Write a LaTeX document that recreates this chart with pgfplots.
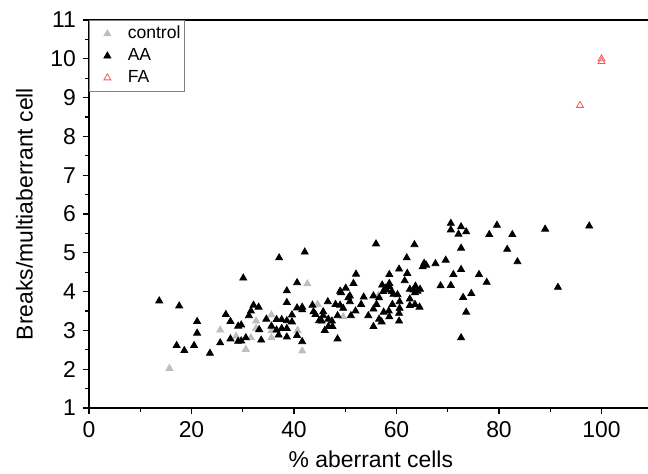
\documentclass[border=0pt]{standalone}
\usepackage{fontspec}
\setmainfont{Liberation Sans}
\usepackage{pgfplots}
\usepackage{pgfplotstable}
\pgfplotsset{compat=1.18}
\definecolor{ctrlgray}{RGB}{190,190,190}
\definecolor{fared}{RGB}{245,90,90}

\pgfplotstableread{
x y
15.7 2.02
25.6 3.01
28.7 2.85
30.6 2.51
32.6 3.24
32.6 3.05
31.6 2.81
35.6 3.40
35.6 2.99
35.6 2.81
40.7 3.00
41.6 2.47
42.6 4.20
44.6 3.67
49.6 3.35
56.5 3.90
}\controltab

\pgfplotstableread{
x y
13.7 3.76
17.6 3.63
21.1 3.23
21.1 2.93
17.1 2.61
18.6 2.48
20.5 2.61
23.6 2.41
25.6 2.68
26.7 3.41
27.6 3.23
27.6 2.78
29.1 3.11
29.7 3.14
29.1 2.72
29.7 2.73
30.6 2.81
31.2 3.38
31.6 3.50
32.1 3.65
33.1 3.60
33.2 3.02
33.6 2.75
34.6 3.29
35.6 3.11
36.6 3.28
37.6 3.28
38.6 3.25
39.6 3.22
36.6 3.01
37.6 3.05
38.6 3.05
37.0 2.88
38.6 2.83
38.6 3.72
39.6 3.40
40.6 3.58
40.6 2.87
30.1 4.35
37.1 4.87
38.6 4.02
40.6 4.23
42.1 5.02
41.6 2.71
48.5 2.78
46.0 3.00
46.7 3.10
47.5 3.10
45.4 3.24
46.7 3.29
47.4 3.24
44.9 3.25
45.7 3.48
45.7 3.38
43.8 3.48
44.2 3.41
43.6 3.65
41.6 3.60
41.6 3.53
46.6 3.74
48.1 3.67
49.0 3.65
49.6 3.57
48.5 3.38
50.6 3.84
50.9 3.74
51.1 3.38
52.0 3.50
53.1 3.67
54.5 3.38
55.5 3.55
56.1 3.67
55.5 3.10
56.6 3.29
57.1 3.22
57.5 3.47
58.5 3.50
59.2 3.67
58.6 3.35
60.5 3.24
60.5 3.44
60.6 3.57
60.6 3.74
62.6 3.81
62.6 3.64
63.6 3.67
64.5 3.60
55.5 3.89
56.6 3.84
56.0 5.23
63.5 5.21
62.0 4.87
65.4 4.73
65.1 4.64
65.8 4.68
67.6 4.72
69.6 4.81
52.1 4.45
58.6 4.44
60.5 4.58
62.1 4.47
61.6 4.28
57.2 4.17
51.6 4.21
50.1 4.09
49.0 4.01
49.2 3.97
57.8 4.09
57.4 4.00
58.1 4.04
58.6 4.13
58.6 4.21
59.4 3.93
60.2 3.92
59.1 4.00
62.6 4.06
63.3 4.04
64.1 4.01
64.6 4.06
63.7 4.14
63.6 3.97
50.9 3.89
53.6 3.86
70.6 5.76
72.6 5.67
70.6 5.59
72.1 5.48
73.6 5.54
79.6 5.71
78.1 5.47
82.6 5.47
89.0 5.61
97.6 5.69
72.6 5.12
81.6 5.09
83.6 4.77
72.6 4.57
71.1 4.44
76.1 4.44
77.6 4.24
68.6 4.15
70.6 4.16
91.5 4.11
74.6 3.95
73.0 3.85
73.6 3.47
72.6 2.81
}\aatab

\pgfplotstableread{
x y
100.0 10.00
100.0 9.93
95.8 8.80
}\fatab

\begin{document}
\begin{tikzpicture}
\path[use as bounding box] (-44.5bp,-33bp) rectangle (279.5bp,204bp);
\begin{axis}[
  scale only axis,
  width=281.875bp, height=194bp,
  xmin=0, xmax=110, ymin=1, ymax=11,
  xtick={0,20,...,100}, minor xtick={10,30,...,110},
  ytick={1,2,...,11}, minor ytick={1.5,2.5,...,10.5},
  tick align=outside, xtick pos=bottom, ytick pos=left,
  major tick length=3bp, minor tick length=2bp,
  axis line style={line width=0.7bp},
  every tick/.style={line width=0.6bp, black},
  /pgf/number format/assume math mode=true,
  tick label style={font=\fontsize{11.5}{13}\selectfont},
  label style={font=\fontsize{11.5}{13}\selectfont},
  xlabel={\% aberrant cells},
  ylabel={Breaks/multiaberrant cell},
  ylabel style={yshift=2bp},
  legend style={at={(0,1)}, anchor=north west, draw=gray, line width=0.4bp,
    font=\fontsize{8.8}{10}\selectfont, inner xsep=1bp, inner ysep=2bp, row sep=1.8bp,
    legend cell align=left,
    nodes={inner xsep=1.2bp, inner ysep=0.8bp}},
  legend image code/.code={\path[draw=none] (0bp,0bp) (17bp,0bp); \draw[#1] plot coordinates {(8bp,0bp)};},
]
\addplot[only marks, mark=triangle*, mark size=2bp, color=ctrlgray] table[x=x,y=y] {\controltab};
\addlegendentry{control}
\addplot[only marks, mark=triangle*, mark size=2bp, color=black] table[x=x,y=y] {\aatab};
\addlegendentry{AA}
\addplot[only marks, mark=triangle, mark size=2bp, color=fared, mark options={line width=0.4bp}] table[x=x,y=y] {\fatab};
\addlegendentry{FA}
\end{axis}
\end{tikzpicture}
\end{document}
